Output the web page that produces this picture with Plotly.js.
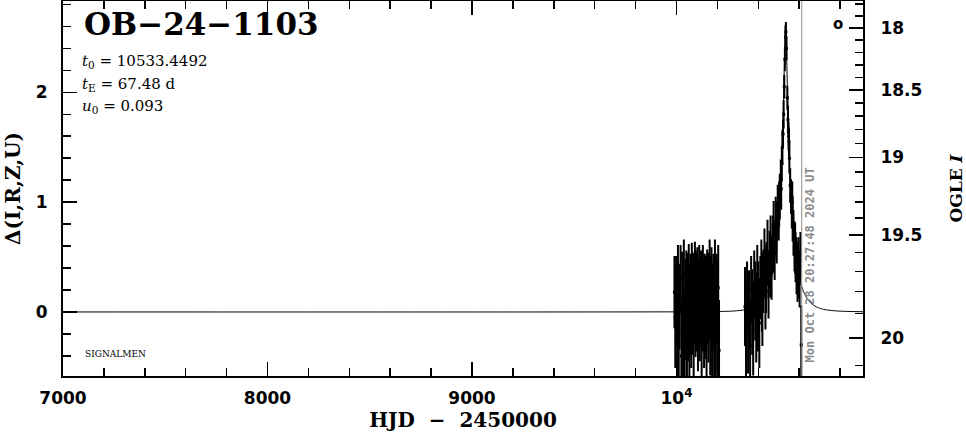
<!DOCTYPE html>
<html>
<head>
<meta charset="utf-8">
<script src="https://cdn.plot.ly/plotly-3.0.1.min.js"></script>
<style>html,body{margin:0;padding:0;background:#fff;}#chart{width:966px;height:434px;}</style>
</head>
<body>
<div id="chart"></div>
<script>
// ---- OGLE photometry (HJD - 2450000, Delta, error) ----
const obsT = [
 9990, 9994, 9998, 10003, 10007, 10011, 10015, 10020, 10024, 10028, 10032, 10036, 10040, 10044, 10048,
 10051, 10054, 10057, 10060, 10063, 10066, 10069, 10072, 10075, 10078, 10081, 10084, 10087, 10090, 10093,
 10096, 10099, 10102, 10105, 10108, 10111, 10114, 10117, 10120, 10123, 10126, 10129, 10132, 10135, 10138,
 10141, 10144, 10147, 10150, 10153, 10156, 10159, 10162, 10165, 10168, 10171, 10174, 10177, 10180, 10184,
 10188, 10192, 10196, 10200, 10204, 10208,
 10067, 10076, 10085, 10094, 10103, 10112, 10121, 10130, 10139, 10148, 10157, 10166, 10175, 10183,
 10070, 10074, 10079, 10083, 10088, 10092, 10097, 10101, 10106, 10110, 10115, 10119, 10124, 10128, 10133,
 10137, 10142, 10146, 10151, 10155, 10160, 10164, 10169, 10173, 10178, 10182, 10186, 10190,
 10335, 10340, 10345, 10350, 10355, 10360, 10365, 10370, 10375, 10380, 10385, 10390, 10395, 10400, 10405,
 10410, 10415, 10420, 10425, 10430, 10435, 10440, 10445, 10450, 10455, 10460, 10465, 10470, 10475, 10480,
 10485, 10490, 10495, 10500, 10505, 10510, 10515, 10518, 10521, 10524, 10527, 10530, 10533, 10535, 10538,
 10542, 10545, 10548, 10552, 10556, 10560, 10564, 10568, 10572, 10577, 10582, 10587, 10592, 10597, 10602,
 10606, 10610,
 10398, 10418, 10438, 10458, 10472, 10488, 10502, 10512, 10550, 10566, 10580, 10595
];
const obsDelta = [
 0.18, -0.05, 0.10, -0.30, 0.25, -0.15, 0.05, 0.30, -0.40, 0.12, -0.08, 0.35, -0.22, 0.02, 0.20,
 -0.35, 0.15, -0.02, 0.28, -0.18, 0.08, 0.22, -0.10, 0.30, 0.00, 0.18, -0.25, 0.12, 0.35, -0.05,
 0.20, 0.05, 0.28, -0.15, 0.15, 0.32, -0.08, 0.10, 0.25, -0.20, 0.05, 0.30, 0.12, -0.12, 0.22,
 0.00, 0.18, -0.28, 0.26, 0.08, -0.05, 0.20, 0.35, -0.15, 0.10, 0.28, -0.30, 0.05, 0.18, -0.10,
 0.30, -0.20, 0.12, -0.05, 0.22, -0.35,
 -0.08, 0.15, 0.05, 0.25, -0.02, 0.10, 0.05, -0.05, 0.15, 0.02, 0.12, 0.20, -0.02, 0.10,
 0.08, 0.02, 0.14, 0.06, -0.03, 0.11, 0.04, 0.16, 0.00, 0.09, 0.13, -0.04, 0.07, 0.15, 0.03,
 0.10, -0.02, 0.12, 0.06, 0.17, 0.01, 0.09, 0.14, 0.04, -0.01, 0.11, 0.06, 0.08,
 0.05, -0.20, 0.15, -0.10, 0.02, -0.30, 0.20, 0.00, -0.15, 0.25, 0.10, -0.05, 0.30, 0.12, -0.10,
 0.22, 0.35, 0.05, 0.28, 0.45, 0.15, 0.38, 0.55, 0.25, 0.48, 0.62, 0.40, 0.58, 0.75, 0.55,
 0.82, 0.70, 0.95, 0.88, 1.05, 1.20, 1.35, 1.50, 1.62, 1.80, 2.05, 2.30, 2.50, 2.55, 2.40,
 1.95, 1.75, 1.60, 1.40, 1.15, 1.05, 0.95, 0.85, 0.72, 0.60, 0.50, 0.42, 0.35, 0.45, 0.30,
 0.52, -0.30,
 0.05, 0.18, 0.30, 0.42, 0.62, 0.78, 0.98, 1.12, 1.55, 1.00, 0.58, 0.38
];
const obsErr = [
 0.32, 0.45, 0.40, 0.50, 0.35, 0.45, 0.38, 0.30, 0.45, 0.42, 0.50, 0.30, 0.40, 0.45, 0.35,
 0.40, 0.38, 0.42, 0.33, 0.45, 0.35, 0.30, 0.40, 0.32, 0.38, 0.35, 0.42, 0.30, 0.28, 0.35,
 0.32, 0.40, 0.30, 0.38, 0.33, 0.28, 0.36, 0.34, 0.30, 0.40, 0.33, 0.30, 0.35, 0.38, 0.30,
 0.42, 0.32, 0.40, 0.30, 0.36, 0.40, 0.33, 0.30, 0.42, 0.35, 0.30, 0.45, 0.38, 0.34, 0.48,
 0.35, 0.45, 0.40, 0.50, 0.38, 0.45,
 0.30, 0.28, 0.33, 0.30, 0.32, 0.30, 0.36, 0.30, 0.32, 0.30, 0.34, 0.30, 0.32, 0.36,
 0.22, 0.25, 0.20, 0.24, 0.26, 0.21, 0.23, 0.20, 0.27, 0.22, 0.20, 0.25, 0.23, 0.19, 0.24,
 0.21, 0.26, 0.20, 0.23, 0.19, 0.25, 0.22, 0.20, 0.24, 0.27, 0.21, 0.25, 0.26,
 0.35, 0.40, 0.30, 0.45, 0.35, 0.40, 0.30, 0.38, 0.42, 0.30, 0.35, 0.40, 0.30, 0.33, 0.40,
 0.28, 0.30, 0.35, 0.28, 0.30, 0.30, 0.25, 0.28, 0.30, 0.25, 0.25, 0.28, 0.22, 0.25, 0.25,
 0.22, 0.25, 0.20, 0.22, 0.20, 0.18, 0.15, 0.15, 0.12, 0.12, 0.10, 0.10, 0.10, 0.08, 0.10,
 0.10, 0.12, 0.12, 0.13, 0.15, 0.15, 0.18, 0.20, 0.20, 0.22, 0.22, 0.25, 0.25, 0.22, 0.25,
 0.20, 0.35,
 0.40, 0.35, 0.30, 0.28, 0.25, 0.22, 0.20, 0.18, 0.12, 0.18, 0.22, 0.25
];

// ---- model curve ----
const modelT = [7000, 9500, 10000, 10133, 10233, 10283, 10333, 10358, 10383, 10408, 10433, 10443, 10453, 10463,
 10473, 10483, 10493, 10503, 10508, 10513, 10518, 10523, 10527, 10530, 10532, 10533.4,
 10535, 10537, 10540, 10544, 10549, 10553, 10558, 10563, 10574, 10583, 10593, 10603, 10613, 10623,
 10633, 10658, 10683, 10708, 10733, 10783, 10833, 10912];
const modelDelta = [0, 0, 0.001, 0.002, 0.005, 0.009, 0.019, 0.029, 0.047, 0.079, 0.139, 0.178, 0.228, 0.296,
 0.388, 0.513, 0.688, 0.936, 1.102, 1.308, 1.569, 1.905, 2.233, 2.471, 2.553, 2.585,
 2.553, 2.471, 2.233, 1.905, 1.569, 1.308, 1.102, 0.936, 0.688, 0.513, 0.388, 0.296, 0.228, 0.178,
 0.139, 0.079, 0.047, 0.029, 0.019, 0.009, 0.005, 0.002];

// ---- axis labels / texts ----
const xTickVals = [7000, 8000, 9000, 10000];
const xTickText = ['7000', '8000', '9000', '10<sup>4</sup>'];
const yTickVals = [0, 1, 2];
const ogleMajor = [18, 18.5, 19, 19.5, 20];
const ogleMajorText = ['18', '18.5', '19', '19.5', '20'];
const ogleMinor = [17.8, 17.9, 18.1, 18.2, 18.3, 18.4, 18.6, 18.7, 18.8, 18.9, 19.1, 19.2, 19.3, 19.4, 19.6, 19.7, 19.8, 19.9, 20.1];
const eventName = 'OB−24−1103';
const paramT0 = '10533.4492';
const paramTE = '67.48';
const paramU0 = '0.093';
const nowLineT = 10612.35;
const nowText = 'Mon Oct 28 20:27:48 2024 UT';

// mapping of OGLE I magnitude onto the Delta scale (axis geometry)
const OGLE_BASE = 19.893, SRC_FRAC = 0.4804;
function magToDelta(m) {
  const F = Math.pow(10, 0.4 * (OGLE_BASE - m));
  return 2.5 * Math.log10((F - (1 - SRC_FRAC)) / SRC_FRAC);
}

const yRange = [-0.583, 2.831];
const xRange = [7000, 10912];
const xMinor = [];
for (let v = 7200; v < 10912; v += 200) if (v % 1000 !== 0) xMinor.push(v);
const yMinor = [];
for (let v = -0.4; v < 2.83; v += 0.2) { const r = Math.round(v * 10) / 10; if (Math.abs(r - Math.round(r)) > 1e-6) yMinor.push(r); }

const serif = 'DejaVu Serif';
const sans = 'DejaVu Sans';

const traces = [
  {x: modelT, y: modelDelta, yaxis: 'y2', mode: 'lines', line: {color: 'black', width: 1, shape: 'spline', smoothing: 0.6}, hoverinfo: 'skip'},
  {x: obsT, y: obsDelta, mode: 'markers', marker: {color: 'black', size: 3, symbol: 'square'},
   error_y: {type: 'data', array: obsErr, visible: true, color: 'black', thickness: 2, width: 1}, hoverinfo: 'skip'}
];

const tickFont = {family: sans, size: 17, color: 'black', weight: 'bold'};

const layout = {
  width: 966, height: 434,
  margin: {l: 63, r: 103, t: 1, b: 58, pad: 0},
  paper_bgcolor: 'white', plot_bgcolor: 'white',
  showlegend: false,
  xaxis: {
    range: xRange, tickmode: 'array', tickvals: xTickVals, ticktext: xTickText,
    ticks: 'inside', ticklen: 14, tickwidth: 1.5, tickcolor: 'black',
    minor: {tickmode: 'array', tickvals: xMinor, ticks: 'inside', ticklen: 8, tickwidth: 1.5, tickcolor: 'black', showgrid: false},
    showline: true, linewidth: 2, linecolor: 'black', mirror: 'ticks',
    showgrid: false, zeroline: false, tickfont: tickFont, ticklabelstandoff: 6,
    title: {text: 'HJD  −  2450000', font: {family: serif, size: 20, color: 'black', weight: 'bold'}, standoff: 6}
  },
  yaxis: {
    range: yRange, tickmode: 'array', tickvals: yTickVals,
    ticks: 'inside', ticklen: 14, tickwidth: 1.5, tickcolor: 'black',
    minor: {tickmode: 'array', tickvals: yMinor, ticks: 'inside', ticklen: 8, tickwidth: 1.5, tickcolor: 'black', showgrid: false},
    showline: true, linewidth: 2, linecolor: 'black',
    showgrid: false, zeroline: false, tickfont: tickFont, ticklabelstandoff: 10,
    title: {text: 'Δ(I,R,Z,U)', font: {family: serif, size: 20, color: 'black', weight: 'bold'}, standoff: 10}
  },
  yaxis2: {
    overlaying: 'y', side: 'right', range: yRange,
    tickmode: 'array', tickvals: ogleMajor.map(magToDelta), ticktext: ogleMajorText,
    ticks: 'inside', ticklen: 14, tickwidth: 1.5, tickcolor: 'black',
    minor: {tickmode: 'array', tickvals: ogleMinor.map(magToDelta), ticks: 'inside', ticklen: 8, tickwidth: 1.5, tickcolor: 'black', showgrid: false},
    showline: true, linewidth: 2, linecolor: 'black',
    showgrid: false, zeroline: false, tickfont: tickFont, ticklabelstandoff: 12,
    title: {text: 'OGLE <i>I</i>', font: {family: serif, size: 17, color: 'black', weight: 'bold'}, standoff: 30}
  },
  shapes: [
    {type: 'line', xref: 'x', yref: 'paper', x0: nowLineT, x1: nowLineT, y0: 0, y1: 1, line: {color: '#8c8c8c', width: 1}}
  ],
  annotations: [
    {xref: 'paper', yref: 'paper', x: 0.024, y: 0.938, xanchor: 'left', yanchor: 'middle', showarrow: false,
     text: eventName, font: {family: serif, size: 31, color: 'black', weight: 'bold'}},
    {xref: 'paper', yref: 'paper', x: 0.021, y: 0.838, xanchor: 'left', yanchor: 'middle', showarrow: false,
     text: '<i>t</i><sub>0</sub> = ' + paramT0, font: {family: serif, size: 15, color: 'black'}},
    {xref: 'paper', yref: 'paper', x: 0.021, y: 0.776, xanchor: 'left', yanchor: 'middle', showarrow: false,
     text: '<i>t</i><sub>E</sub> = ' + paramTE + ' d', font: {family: serif, size: 15, color: 'black'}},
    {xref: 'paper', yref: 'paper', x: 0.021, y: 0.718, xanchor: 'left', yanchor: 'middle', showarrow: false,
     text: '<i>u</i><sub>0</sub> = ' + paramU0, font: {family: serif, size: 15, color: 'black'}},
    {xref: 'paper', yref: 'paper', x: 0.025, y: 0.058, xanchor: 'left', yanchor: 'middle', showarrow: false,
     text: 'SIGNALMEN', font: {family: serif, size: 9, color: 'black'}},
    {xref: 'paper', yref: 'paper', x: 0.9335, y: 0.297, xanchor: 'center', yanchor: 'middle', showarrow: false, textangle: -90,
     text: nowText, font: {family: 'DejaVu Sans Mono', size: 12, color: '#8c8c8c', weight: 'bold'}},
    {xref: 'paper', yref: 'paper', x: 0.9685, y: 0.94, xanchor: 'center', yanchor: 'middle', showarrow: false,
     text: 'o', font: {family: sans, size: 15, color: 'black', weight: 'bold'}}
  ]
};

Plotly.newPlot('chart', traces, layout, {displayModeBar: false, staticPlot: true});
</script>
</body>
</html>
